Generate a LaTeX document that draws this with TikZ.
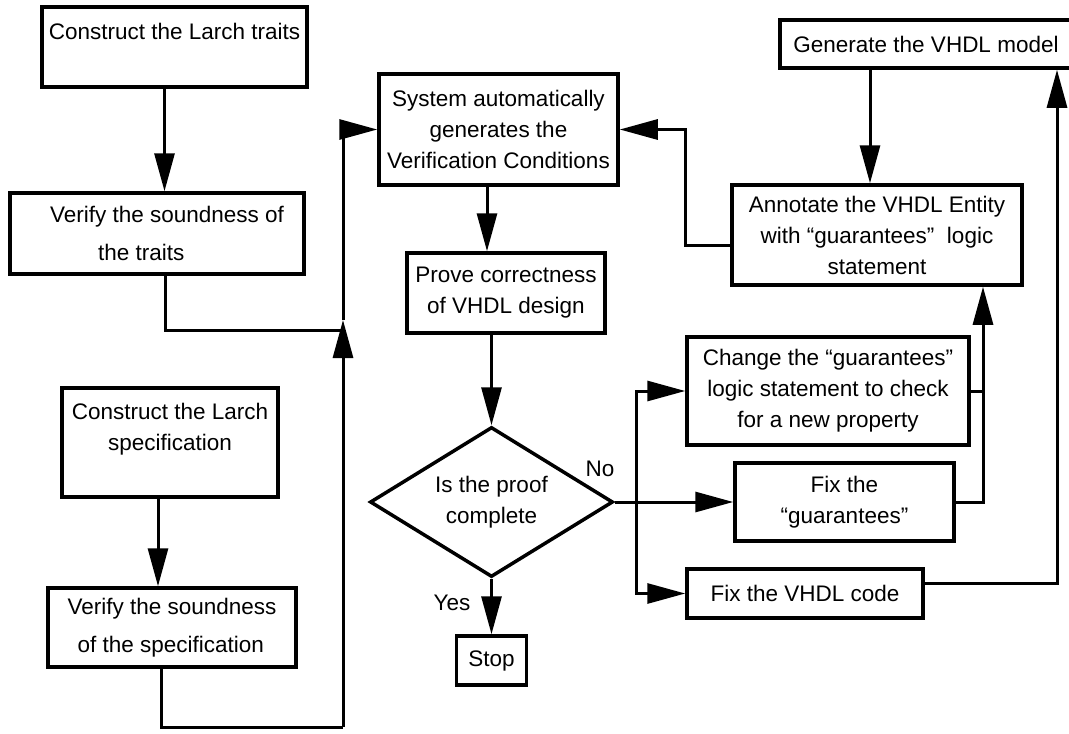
\documentclass[tikz,border=0pt]{standalone}
\usepackage{fontspec}
\setmainfont{Liberation Sans}
\usetikzlibrary{positioning,shapes,arrows.meta}
\tikzset{
        >={Triangle[length=38pt,width=20pt]}, % big solid arrow heads
        box/.style={draw, line width=3.5pt, align=center, inner sep=0pt}, % every step of the flow
        link/.style={line width=3pt}, % the connectors
}

\begin{document}
\begin{tikzpicture}[x=1pt,y=-1pt,font=\fontsize{22.5}{31}\selectfont]
\useasboundingbox (0,0) rectangle (1069,734);

% left column
\node[box, minimum width=265pt, minimum height=80pt] (trait) at (174.5,47) {Construct the Larch traits\\ ~};
\node[box, align=left, minimum width=294pt, minimum height=81pt] (traitchk) at (157,233.5) {\hspace*{20pt}Verify the soundness of\\[7pt]\hspace*{68pt}the traits};
\node[box, minimum width=216pt, minimum height=109pt] (spec) at (170,442.5) {Construct the Larch\\specification\\ ~};
\node[box, align=left, minimum width=248pt, minimum height=79pt] (specchk) at (172,627.5) {Verify the soundness\\[7pt]\hspace*{10pt}of the specification};

% middle column
\node[box, minimum width=239pt, minimum height=111pt] (vc) at (498.5,129.5) {System automatically\\generates the\\Verification Conditions};
\node[box, minimum width=198pt, minimum height=80pt] (prove) at (506,293) {Prove correctness\\of VHDL design};
\node[box, diamond, aspect=1.6, minimum width=243pt, minimum height=150pt] (proof) at (491.5,502) {Is the proof\\complete};
\node[box, minimum width=70pt, minimum height=49pt] (stop) at (491.5,660.5) {Stop};
\node (yes) at (452,603) {Yes};
\node (no) at (600,469) {No};

% right column
\node[box, minimum width=292pt, minimum height=48pt] (model) at (926,44) {Generate the VHDL model};
\node[box, minimum width=290pt, minimum height=100pt] (annot) at (877,235) {Annotate the VHDL Entity\\with “guarantees”~ logic\\statement};
\node[box, minimum width=282pt, minimum height=108pt] (change) at (828,391) {Change the “guarantees”\\logic statement to check\\for a new property};
\node[box, minimum width=219pt, minimum height=78pt] (fixg) at (844.5,502) {Fix the\\“guarantees”};
\node[box, minimum width=236pt, minimum height=49pt] (fixcode) at (805,593.5) {Fix the VHDL code};

% turning points
\coordinate (traitout) at ([xshift=-10pt]trait.south);
\coordinate (traitchkout) at ([xshift=8pt]traitchk.south);
\coordinate (specout) at ([xshift=-12pt]spec.south);
\coordinate (specchkout) at ([xshift=-11pt]specchk.south);
\coordinate (join) at (343,330);
\coordinate (bustip) at (343,320);
\coordinate (busend) at (343,727);
\coordinate (vcout) at ([xshift=-11.5pt]vc.south);
\coordinate (split) at ([xshift=22pt]proof.east);
\coordinate (annotin) at ([xshift=106pt]annot.south);
\coordinate (annotout) at ([yshift=-10pt]annot.west);
\coordinate (back) at ([xshift=-45pt]annotout);
\coordinate (modelout) at ([xshift=-56pt]model.south);
\coordinate (modelin) at ([xshift=131pt]model.south);
\coordinate (fixcodeout) at ([yshift=10pt]fixcode.east);

\draw[link,->] (traitout) -- (traitout |- traitchk.north);
\draw[link] (traitchkout) |- (join);
\draw[link,->] (specout) -- (specout |- specchk.north);
\draw[link] (specchkout) |- (busend);
\draw[link,->] (busend) -- (bustip);
\draw[link,->] (bustip) |- (vc.west);

\draw[link,->] (vcout) -- (vcout |- prove.north);
\draw[link,->] (proof.north |- prove.south) -- (proof.north);
\draw[link,->] (proof.south) -- (stop.north);

\draw[link,->] (proof.east) -- (fixg.west);
\draw[link,->] (split) |- (change.west);
\draw[link,->] (split) |- (fixcode.west);
\draw[link] (change.east) -- (change.east -| annotin);
\draw[link,->] (fixg.east) -| (annotin);
\draw[link,->] (annotout) -- (back) |- (vc.east);
\draw[link,->] (modelout) -- (modelout |- annot.north);
\draw[link,->] (fixcodeout) -| (modelin);

\end{tikzpicture}
\end{document}
